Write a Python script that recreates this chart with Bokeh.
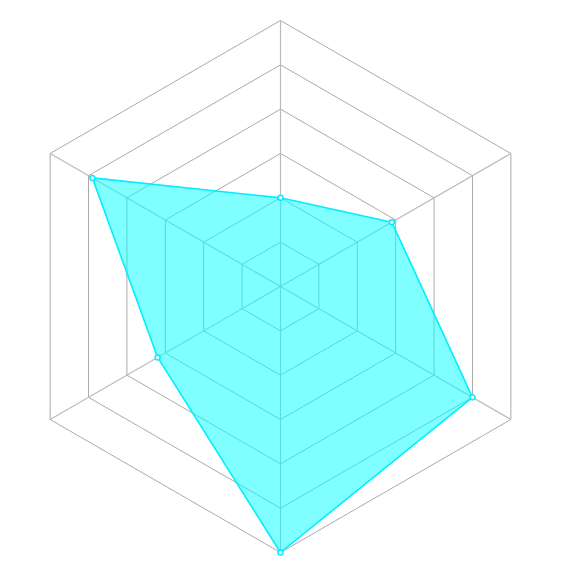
import numpy as np
from bokeh.plotting import figure
from bokeh.models import Range1d
from bokeh.embed import file_html
from bokeh.resources import INLINE

# data (clockwise from top)
indicators = ["A", "B", "C", "D", "E", "F"]
values = [2.0, 2.9, 5.0, 6.0, 3.2, 4.9]
max_value = 6.0
rings = [1, 2, 3, 4, 5, 6]

scale = 266.0 / max_value  # px per unit
cx, cy = 280.0, 286.0
W = H = 557

p = figure(width=W, height=H, output_backend="svg", toolbar_location=None,
           x_range=Range1d((0 - cx) / scale, (W - cx) / scale),
           y_range=Range1d((cy - H) / scale, cy / scale),
           min_border=0, outline_line_color=None)
p.axis.visible = False
p.grid.visible = False
p.background_fill_color = "white"
p.border_fill_color = "white"

n = len(indicators)
angles = np.pi / 2 - np.arange(n) * 2 * np.pi / n

# rings
for r in rings:
    xs = list(r * np.cos(angles)) + [r * np.cos(angles[0])]
    ys = list(r * np.sin(angles)) + [r * np.sin(angles[0])]
    p.line(xs, ys, line_color="#aaaaaa", line_width=1)

# spokes
for a in angles:
    p.line([0, max_value * np.cos(a)], [0, max_value * np.sin(a)],
           line_color="#bbbbbb", line_width=1.2)

vx = [v * np.cos(a) for v, a in zip(values, angles)]
vy = [v * np.sin(a) for v, a in zip(values, angles)]
p.patch(vx, vy, fill_color="#00ffff", fill_alpha=0.5,
        line_color="#00eeff", line_width=1.6)
p.scatter(vx, vy, size=5, marker="circle", fill_color="white",
          line_color="#00eeff", line_width=1.5)

open("out.html", "w").write(file_html(p, INLINE))
